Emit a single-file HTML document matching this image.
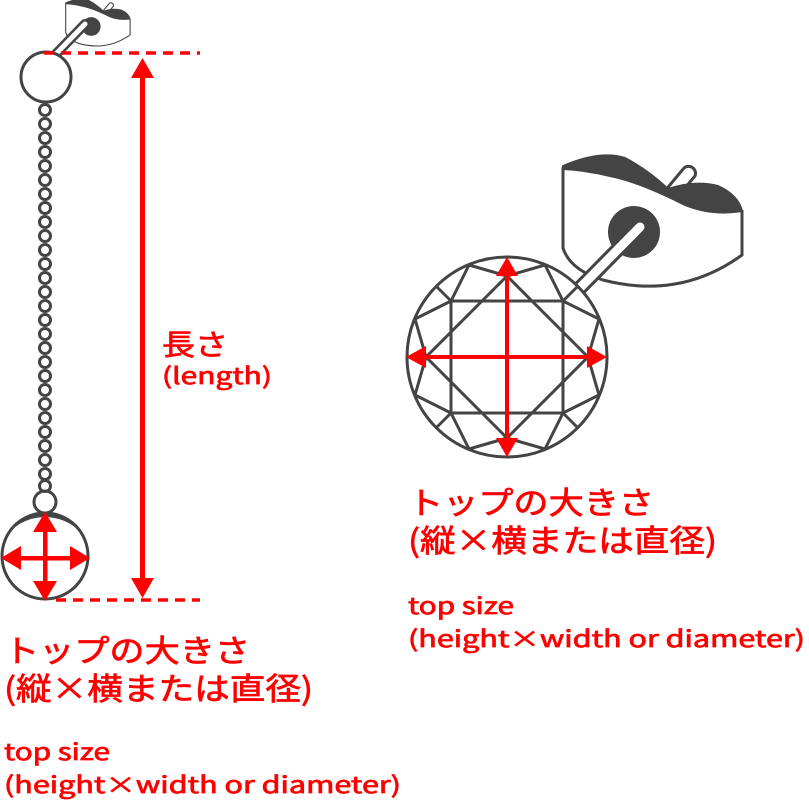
<!DOCTYPE html>
<html><head><meta charset="utf-8"><style>
html,body{margin:0;padding:0;background:#fff;}
svg{display:block;}
text{font-family:"Liberation Sans","Noto Sans CJK JP",sans-serif;fill:#ff0000;}
.jp{font-family:"Noto Sans CJK JP","Liberation Sans",sans-serif;stroke:#ff0000;stroke-width:0.7;}
</style></head><body>
<svg width="809" height="802" viewBox="0 0 809 802" xmlns="http://www.w3.org/2000/svg">
<defs>
  <g id="back">
    <path d="M664,192 L684,168 A7,7 0 0 1 695,176 L675,200 Z" fill="#fff" stroke="#444" stroke-width="3"/>
    <path d="M563,167 L563,248 Q570,270 603,280 Q680,300 742,255 L742,210" fill="#fff" stroke="#444" stroke-width="3"/>
    <path d="M563,166 Q600,150 625,158 Q648,170 668,189 Q695,180 718,186 Q738,195 742,211 Q712,216 685,205 Q640,182 610,176 Q585,170 563,169 Z" fill="#444" stroke="#444" stroke-width="2"/>
    <circle cx="634" cy="232" r="26" fill="#444"/>
  </g>
</defs>

<g transform="translate(-137,-57) scale(0.36)">
  <use href="#back"/>
</g>
<path d="M52,58 L85,24" stroke="#444" stroke-width="10" stroke-linecap="round"/>
<path d="M52,58 L85,24" stroke="#fff" stroke-width="5" stroke-linecap="round"/>
<circle cx="46" cy="77" r="25" fill="#fff" stroke="#444" stroke-width="3"/>
<g fill="none" stroke="#444" stroke-width="3">
  <circle cx="45" cy="110" r="5.5"/><circle cx="45" cy="124" r="5.5"/><circle cx="45" cy="138" r="5.5"/><circle cx="45" cy="152" r="5.5"/>
  <circle cx="45" cy="166" r="5.5"/><circle cx="45" cy="180" r="5.5"/><circle cx="45" cy="194" r="5.5"/><circle cx="45" cy="208" r="5.5"/>
  <circle cx="45" cy="222" r="5.5"/><circle cx="45" cy="236" r="5.5"/><circle cx="45" cy="250" r="5.5"/><circle cx="45" cy="264" r="5.5"/>
  <circle cx="45" cy="278" r="5.5"/><circle cx="45" cy="292" r="5.5"/><circle cx="45" cy="306" r="5.5"/><circle cx="45" cy="320" r="5.5"/>
  <circle cx="45" cy="334" r="5.5"/><circle cx="45" cy="348" r="5.5"/><circle cx="45" cy="362" r="5.5"/><circle cx="45" cy="376" r="5.5"/>
  <circle cx="45" cy="390" r="5.5"/><circle cx="45" cy="404" r="5.5"/><circle cx="45" cy="418" r="5.5"/><circle cx="45" cy="432" r="5.5"/>
  <circle cx="45" cy="446" r="5.5"/><circle cx="45" cy="460" r="5.5"/><circle cx="45" cy="474" r="5.5"/><circle cx="45" cy="486" r="5.5"/>
  <circle cx="45" cy="502" r="11"/>
  <circle cx="45" cy="556" r="43"/>
  <path d="M14,526 Q45,503 76,526"/>
  <path d="M18,523 Q45,508 72,523"/>
</g>
<g fill="#ff0000" stroke="none">
  <rect x="43" y="528" width="4.5" height="58"/>
  <rect x="14" y="556" width="62" height="4.5"/>
  <polygon points="45,512 33,532 57,532"/>
  <polygon points="45,601 33,581 57,581"/>
  <polygon points="1,558 21,546 21,570"/>
  <polygon points="90,558 70,546 70,570"/>
</g>
<line x1="44" y1="53" x2="200" y2="53" stroke="#ff0000" stroke-width="3.5" stroke-dasharray="10,7"/>
<line x1="56" y1="600" x2="200" y2="600" stroke="#ff0000" stroke-width="3.5" stroke-dasharray="10,7"/>
<rect x="140" y="72" width="5" height="512" fill="#ff0000"/>
<polygon points="142.5,58 131,78 154,78" fill="#ff0000"/>
<polygon points="142.5,598 131,578 154,578" fill="#ff0000"/>
<text class="jp" x="162" y="355" font-size="29" textLength="66" lengthAdjust="spacingAndGlyphs">長さ</text>
<text class="jp" x="162" y="384" font-size="23" textLength="110" lengthAdjust="spacingAndGlyphs">(length)</text>

<text class="jp" x="4" y="662" font-size="31" textLength="246" lengthAdjust="spacingAndGlyphs">トップの大きさ</text>
<text class="jp" x="4" y="700" font-size="31" textLength="309" lengthAdjust="spacingAndGlyphs">(縦×横または直径)</text>
<text class="jp" x="4" y="760" font-size="23" textLength="106" lengthAdjust="spacingAndGlyphs">top size</text>
<text class="jp" x="4" y="793" font-size="23" textLength="397" lengthAdjust="spacingAndGlyphs">(height×width or diameter)</text>

<use href="#back"/>
<path d="M572,296 L640,227" stroke="#444" stroke-width="15" stroke-linecap="round"/>
<path d="M572,296 L640,227" stroke="#fff" stroke-width="9" stroke-linecap="round"/>
<g fill="none" stroke="#444" stroke-width="3" stroke-linejoin="round">
  <circle cx="507" cy="357" r="100" fill="#fff"/>
  <rect x="451" y="301" width="112" height="112"/>
  <polygon points="507,276 588,357 507,438 426,357"/>
  <polyline points="469,265 507,276 545,265"/>
  <polyline points="599,319 588,357 599,395"/>
  <polyline points="545,449 507,438 469,449"/>
  <polyline points="415,395 426,357 415,319"/>
  <line x1="469" y1="265" x2="451" y2="301"/>
  <line x1="415" y1="319" x2="451" y2="301"/>
  <line x1="545" y1="265" x2="563" y2="301"/>
  <line x1="599" y1="319" x2="563" y2="301"/>
  <line x1="599" y1="395" x2="563" y2="413"/>
  <line x1="545" y1="449" x2="563" y2="413"/>
  <line x1="469" y1="449" x2="451" y2="413"/>
  <line x1="415" y1="395" x2="451" y2="413"/>
  <line x1="451" y1="301" x2="436" y2="286"/>
  <line x1="563" y1="301" x2="578" y2="286"/>
  <line x1="563" y1="413" x2="578" y2="428"/>
  <line x1="451" y1="413" x2="436" y2="428"/>
</g>
<g fill="#ff0000">
  <rect x="505" y="275" width="4" height="166"/>
  <rect x="420" y="355" width="175" height="4"/>
  <polygon points="507,257 496,276 518,276"/>
  <polygon points="507,457 496,438 518,438"/>
  <polygon points="406,357 426,346 426,368"/>
  <polygon points="607,357 587,346 587,368"/>
</g>
<text class="jp" x="408" y="514" font-size="31" textLength="246" lengthAdjust="spacingAndGlyphs">トップの大きさ</text>
<text class="jp" x="408" y="552" font-size="31" textLength="309" lengthAdjust="spacingAndGlyphs">(縦×横または直径)</text>
<text class="jp" x="408" y="614" font-size="23" textLength="106" lengthAdjust="spacingAndGlyphs">top size</text>
<text class="jp" x="408" y="647" font-size="23" textLength="397" lengthAdjust="spacingAndGlyphs">(height×width or diameter)</text>
</svg>
</body></html>
